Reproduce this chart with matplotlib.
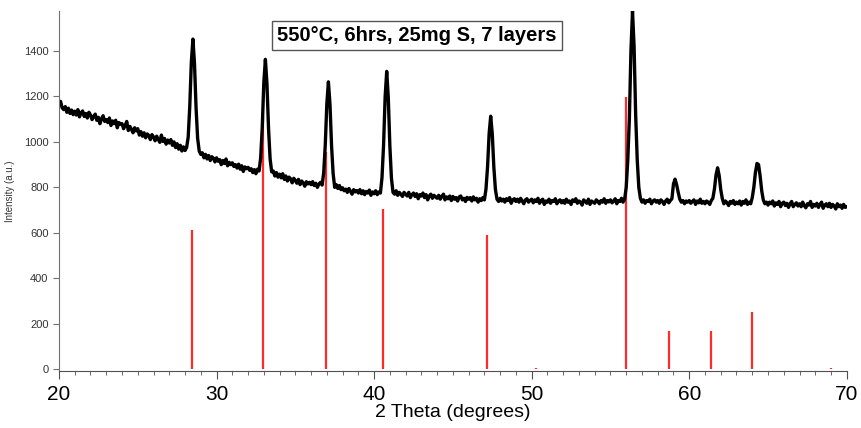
import numpy as np
import matplotlib.pyplot as plt
from matplotlib.ticker import MultipleLocator

plt.rcParams['font.family'] = ['Liberation Sans', 'DejaVu Sans']

# measured pattern, 20.0 to 70.0 deg in 0.1 deg steps (one row per degree)
intensity = [
    1165, 1178, 1150, 1142, 1155, 1130, 1148, 1125, 1140, 1120,
    1135, 1118, 1142, 1110, 1128, 1136, 1112, 1125, 1105, 1130,
    1118, 1098, 1112, 1122, 1095, 1108, 1080, 1102, 1115, 1090,
    1098, 1085, 1105, 1072, 1092, 1080, 1095, 1062, 1085, 1078,
    1080, 1058, 1072, 1090, 1050, 1068, 1055, 1040, 1062, 1048,
    1058, 1030, 1045, 1025, 1040, 1018, 1035, 1028, 1010, 1032,
    1022, 1005, 1025, 1012, 998, 1030, 1002, 1015, 990, 1008,
    995, 1010, 985, 1000, 975, 992, 968, 985, 960, 978,
    962, 975, 1020, 1155, 1350, 1452, 1345, 1150, 1015, 960,
    945, 952, 930, 945, 925, 940, 918, 935, 928, 912,
    930, 915, 922, 900, 918, 905, 925, 895, 910, 900,
    908, 892, 900, 885, 902, 880, 895, 870, 890, 882,
    888, 875, 882, 865, 878, 860, 880, 872, 930, 1062,
    1260, 1363, 1255, 1058, 925, 868, 872, 850, 865, 845,
    858, 842, 860, 835, 850, 828, 845, 838, 820, 840,
    830, 818, 835, 812, 828, 820, 805, 825, 815, 822,
    812, 825, 808, 818, 800, 815, 822, 810, 863, 985,
    1168, 1264, 1165, 982, 860, 800, 812, 795, 808, 790,
    798, 785, 792, 778, 795, 782, 770, 790, 780, 786,
    775, 790, 772, 785, 768, 782, 775, 788, 765, 780,
    772, 785, 768, 780, 775, 842, 985, 1198, 1310, 1195,
    982, 840, 778, 770, 785, 765, 778, 770, 760, 778,
    770, 762, 778, 755, 768, 775, 760, 772, 750, 768,
    762, 775, 755, 768, 745, 762, 770, 752, 765, 758,
    752, 765, 748, 760, 770, 745, 758, 750, 762, 742,
    760, 748, 755, 740, 758, 762, 745, 752, 738, 756,
    748, 755, 740, 758, 745, 752, 735, 750, 742, 755,
    745, 792, 890, 1036, 1113, 1035, 888, 790, 748, 738,
    752, 740, 748, 735, 750, 742, 755, 730, 745, 750,
    738, 748, 735, 752, 740, 728, 745, 750, 735, 742,
    748, 732, 745, 738, 752, 730, 742, 748, 725, 740,
    735, 748, 730, 742, 738, 750, 728, 740, 745, 732,
    742, 730, 748, 735, 740, 725, 745, 738, 750, 730,
    740, 735, 722, 745, 738, 730, 748, 725, 740, 735,
    730, 745, 738, 728, 742, 735, 750, 730, 742, 736,
    745, 732, 740, 750, 728, 742, 738, 752, 735, 748,
    800, 920, 1100, 1400, 1575, 1420, 1120, 920, 800, 752,
    735, 745, 730, 742, 738, 748, 728, 740, 745, 735,
    742, 730, 745, 738, 725, 740, 748, 732, 742, 750,
    815, 836, 812, 778, 748, 735, 742, 728, 740, 735,
    742, 730, 738, 745, 725, 740, 732, 748, 730, 738,
    728, 740, 735, 725, 742, 752, 793, 854, 886, 852,
    790, 750, 728, 740, 732, 720, 738, 730, 742, 725,
    735, 728, 740, 722, 738, 730, 745, 725, 735, 728,
    755, 800, 865, 905, 900, 850, 785, 745, 728, 735,
    722, 735, 728, 740, 718, 732, 725, 738, 715, 730,
    735, 720, 730, 712, 728, 738, 715, 725, 732, 718,
    728, 715, 735, 720, 710, 728, 722, 738, 712, 725,
    718, 730, 712, 725, 735, 708, 722, 728, 715, 730,
    712, 725, 718, 705, 728, 715, 722, 708, 725, 712,
    715,
]
two_theta = np.linspace(20, 70, len(intensity))

# reference pattern lines
ref_pos = [28.42, 32.95, 36.93, 40.59, 47.18, 50.25, 56.0, 58.7, 61.39, 63.96, 69.0]
ref_int = [612, 1108, 957, 705, 590, 5, 1199, 170, 167, 253, 5]

title = '550°C, 6hrs, 25mg S, 7 layers'

fig = plt.figure(figsize=(8.61, 4.28), dpi=100)
ax = fig.add_axes([0.0685, 0.134, 0.915, 0.840])

ax.vlines(ref_pos, 0, ref_int, color='#ff2a2a', linewidth=1.6)
ax.plot(two_theta, intensity, color='black', linewidth=2.4)

ax.set_xlim(20, 70)
ax.set_ylim(-6, 1575)

ax.spines['top'].set_visible(False)
ax.spines['right'].set_visible(False)
ax.spines['left'].set_color('#707070')
ax.spines['bottom'].set_color('#505050')

ax.xaxis.set_major_locator(MultipleLocator(10))
ax.xaxis.set_minor_locator(MultipleLocator(1))
ax.yaxis.set_major_locator(MultipleLocator(200))
ax.tick_params(axis='x', which='major', length=6, color='#505050', labelsize=15, pad=4)
ax.tick_params(axis='x', which='minor', length=3, color='#505050')
ax.tick_params(axis='y', length=4, color='#707070', labelsize=8, labelcolor='#333333')

ax.set_xlabel('2 Theta (degrees)', fontsize=14, labelpad=0)
ax.set_ylabel('Intensity (a.u.)', fontsize=7, color='#333333', labelpad=6)

ax.text(42.73, 1469, title, fontsize=14.5, fontweight='bold', ha='center', va='center',
        bbox=dict(boxstyle='square,pad=0.25', facecolor='white', edgecolor='#555555', linewidth=1))

fig.savefig('out.png', dpi=100)
